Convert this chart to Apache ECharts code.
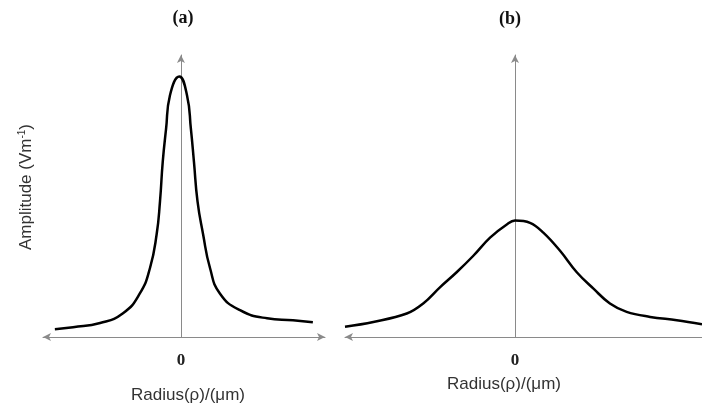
<!DOCTYPE html>
<html>
<head>
<meta charset="utf-8">
<script src="https://cdn.jsdelivr.net/npm/echarts@6/dist/echarts.min.js"></script>
<style>html,body{margin:0;padding:0;background:#fff;}#c{width:702px;height:410px;}</style>
</head>
<body>
<div id="c"></div>
<script>
// Panel titles and axis text
const panelTitles = ['(a)', '(b)'];
const xAxisName = 'Radius(\u03c1)/(\u03bcm)';
const xTickLabels = ['0'];

// Panel (a): narrow peak (arbitrary units)
const radiusA = [-4.57, -3.91, -2.93, -2.10, -1.49, -1.12, -0.88, -0.76, -0.66, -0.54, -0.40, -0.06, 0.22, 0.36, 0.47, 0.60, 0.80, 1.05, 1.41, 2.14, 3.12, 4.06, 4.78];
const amplitudeA = [0.028, 0.035, 0.050, 0.085, 0.156, 0.248, 0.369, 0.486, 0.628, 0.745, 0.865, 0.933, 0.865, 0.745, 0.628, 0.486, 0.369, 0.248, 0.156, 0.096, 0.067, 0.060, 0.053];

// Panel (b): broad peak
const radiusB = [-6.0, -5.00, -3.82, -3.24, -2.65, -2.06, -1.47, -0.88, -0.29, 0, 0.53, 1.00, 1.59, 2.18, 2.77, 3.35, 3.94, 4.77, 5.71, 6.60];
const amplitudeB = [0.037, 0.054, 0.084, 0.120, 0.178, 0.232, 0.291, 0.356, 0.403, 0.417, 0.409, 0.374, 0.309, 0.232, 0.173, 0.120, 0.090, 0.072, 0.060, 0.046];

const axisColor = '#8a8a8a';
function xAx(idx, min, max, nameGap, namePad, arrows) {
  return {
    type: 'value', gridIndex: idx, min: min, max: max, interval: 1,
    name: xAxisName, nameLocation: 'middle', nameGap: nameGap,
    nameTextStyle: {fontFamily: 'Liberation Sans', fontSize: 17, color: '#333', padding: namePad},
    axisLine: {show: true, onZero: true, symbol: arrows, symbolSize: [6, 8], lineStyle: {color: axisColor, width: 1}},
    axisTick: {show: false}, splitLine: {show: false},
    axisLabel: {
      margin: 15, fontFamily: 'Liberation Serif', fontWeight: 'bold', fontSize: 17, color: '#222',
      formatter: v => xTickLabels.includes(String(v)) ? String(v) : '',
      showMinLabel: false, showMaxLabel: false
    }
  };
}
function yAx(idx) {
  return {
    type: 'value', gridIndex: idx, min: 0, max: 1.01,
    axisLine: {show: true, onZero: true, symbol: ['none', 'arrow'], symbolSize: [6, 8], lineStyle: {color: axisColor, width: 1}},
    axisTick: {show: false}, splitLine: {show: false}, axisLabel: {show: false}
  };
}

const chart = echarts.init(document.getElementById('c'), null, {renderer: 'canvas'});
chart.setOption({
  animation: false,
  backgroundColor: '#fff',
  title: [
    {text: panelTitles[0], left: 178, top: 4, textAlign: 'center', textStyle: {fontFamily: 'Liberation Serif', fontWeight: 'bold', fontSize: 18, color: '#111'}},
    {text: panelTitles[1], left: 505, top: 5, textAlign: 'center', textStyle: {fontFamily: 'Liberation Serif', fontWeight: 'bold', fontSize: 18, color: '#111'}}
  ],
  grid: [
    {left: 43, width: 282, top: 55, bottom: 73},
    {left: 345, right: 0, top: 55, bottom: 73}
  ],
  xAxis: [
    xAx(0, -5, 5.22, 50, [0, 0, 0, 8], ['arrow', 'arrow']),
    xAx(1, -6, 6.6, 39, [0, 39, 0, 0], ['arrow', 'none'])
  ],
  yAxis: [yAx(0), yAx(1)],
  graphic: [{
    type: 'text', x: 26, y: 187, rotation: Math.PI / 2,
    style: {
      text: '{a|Amplitude (Vm}{s|-1}{a|)}', align: 'center', verticalAlign: 'middle',
      rich: {
        a: {fontFamily: 'Liberation Sans', fontSize: 17, fill: '#333', color: '#333'},
        s: {fontFamily: 'Liberation Sans', fontSize: 10, fill: '#333', color: '#333', padding: [0, 0, 8, 0]}
      }
    }
  }],
  series: [
    {type: 'line', xAxisIndex: 0, yAxisIndex: 0, smooth: 0.5, symbol: 'none',
     lineStyle: {color: '#000', width: 2.5}, data: radiusA.map((x, i) => [x, amplitudeA[i]])},
    {type: 'line', xAxisIndex: 1, yAxisIndex: 1, smooth: 0.4, symbol: 'none',
     lineStyle: {color: '#000', width: 2.5}, data: radiusB.map((x, i) => [x, amplitudeB[i]])}
  ]
});
</script>
</body>
</html>
